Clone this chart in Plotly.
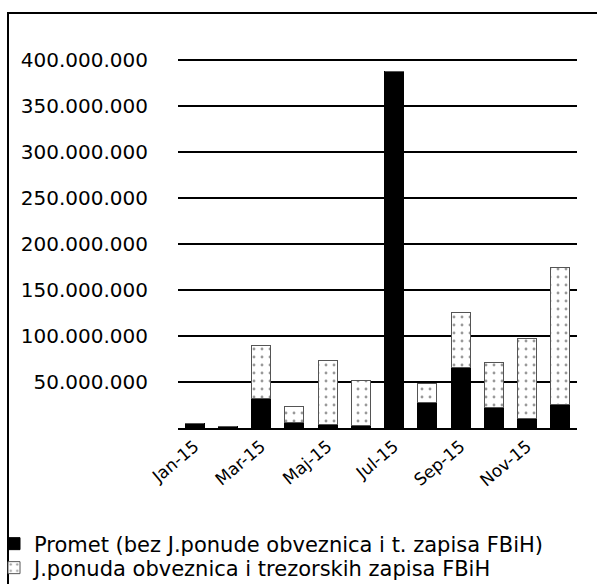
import plotly.graph_objects as go

months = ["Jan-15", "Feb-15", "Mar-15", "Apr-15", "Maj-15", "Jun-15",
          "Jul-15", "Avg-15", "Sep-15", "Okt-15", "Nov-15", "Dec-15"]
promet = [5e6, 2e6, 32e6, 6e6, 4e6, 3e6, 387e6, 28e6, 66e6, 22e6, 10e6, 26e6]
ponuda = [0, 0, 58e6, 17e6, 69e6, 49e6, 0, 20e6, 60e6, 49e6, 87e6, 148e6]
x_tick_labels = ["Jan-15", "Mar-15", "Maj-15", "Jul-15", "Sep-15", "Nov-15"]
y_tick_vals = [50e6, 100e6, 150e6, 200e6, 250e6, 300e6, 350e6, 400e6]
y_tick_text = ["50.000.000", "100.000.000", "150.000.000", "200.000.000",
               "250.000.000", "300.000.000", "350.000.000", "400.000.000"]
name_promet = "Promet (bez J.ponude obveznica i t. zapisa FBiH)"
name_ponuda = "J.ponuda obveznica i trezorskih zapisa FBiH"

fig = go.Figure()
fig.add_trace(go.Bar(x=months, y=promet, name=name_promet, legend="legend",
                     marker=dict(color="black", line=dict(color="black", width=1))))
fig.add_trace(go.Bar(x=months, y=ponuda, name=name_ponuda, legend="legend2",
                     marker=dict(color="white",
                                 line=dict(color="#555", width=1),
                                 pattern=dict(shape=".", fgcolor="#333", bgcolor="white",
                                              size=8, solidity=0.1))))

W, H = 597, 584
L, R, T, B = 178, 20, 57, 156
pw, ph = W - L - R, H - T - B

def px(x):
    return (x - L) / pw

def py(y):
    return (H - B - y) / ph

FONT = "DejaVu Sans, Lato, sans-serif"
leg_common = dict(xanchor="left", yanchor="middle", orientation="v",
                  font=dict(family=FONT, size=21, color="black"),
                  bgcolor="rgba(0,0,0,0)", itemwidth=30, borderwidth=0)

fig.update_layout(
    width=W, height=H,
    margin=dict(l=L, r=R, t=T, b=B, autoexpand=False),
    paper_bgcolor="white", plot_bgcolor="white",
    barmode="stack", bargap=0.43,
    font=dict(family=FONT, color="black"),
    showlegend=True,
    legend=dict(x=px(-6), y=py(544), **leg_common),
    legend2=dict(x=px(-6), y=py(568), **leg_common),
    xaxis=dict(type="category", tickmode="array", tickvals=x_tick_labels,
               ticktext=x_tick_labels, tickangle=-40,
               tickfont=dict(size=17, color="black"),
               showline=True, linecolor="black", linewidth=2,
               showgrid=False, ticks="", automargin=False),
    yaxis=dict(range=[0, 403e6], tickmode="array", tickvals=y_tick_vals,
               ticktext=y_tick_text, tickfont=dict(size=20, color="black"),
               showgrid=True, gridcolor="black", gridwidth=2,
               zeroline=False, showline=False, ticks="",
               ticklabelstandoff=29, automargin=False),
    shapes=[dict(type="rect", xref="paper", yref="paper",
                 x0=px(8), x1=px(W + 20), y0=py(H + 20), y1=py(13),
                 line=dict(color="black", width=2), fillcolor="rgba(0,0,0,0)",
                 layer="above")],
)

fig.write_html("out.html", config={"displayModeBar": False},
               post_script="document.body.style.margin='0';document.body.style.overflow='hidden';")
